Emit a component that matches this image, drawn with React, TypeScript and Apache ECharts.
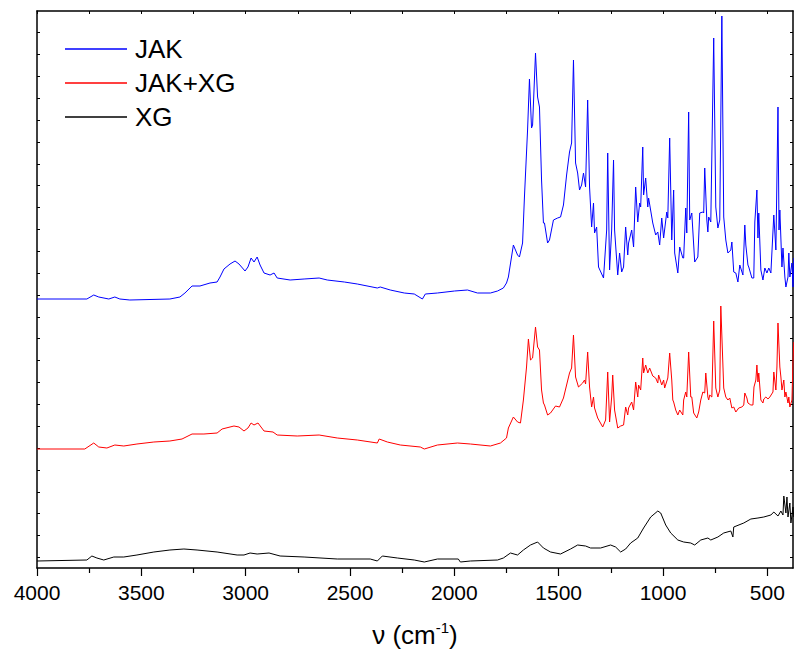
import React, { useEffect, useRef } from "react";
import * as echarts from "echarts";

// Wavenumbers (cm-1) and absorbance (arbitrary, offset) for each spectrum
const jakX = [4000,3761,3728,3704,3656,3627,3603,3555,3363,3315,3291,3257,3219,3171,3137,3123,3104,3075,3051,3032,3003,2989,2974,2960,2945,2931,2912,2883,2864,2849,2787,2720,2648,2609,2527,2465,2369,2355,2307,2240,2192,2153,2139,2081,1999,1937,1889,1827,1793,1765,1750,1741,1717,1697,1688,1673,1664,1649,1640,1630,1625,1611,1601,1592,1582,1573,1568,1553,1544,1525,1505,1491,1477,1462,1448,1438,1429,1419,1409,1400,1390,1381,1371,1361,1352,1342,1333,1328,1318,1309,1285,1270,1265,1256,1246,1237,1232,1217,1208,1198,1189,1179,1169,1165,1150,1141,1131,1121,1112,1107,1097,1093,1083,1073,1069,1049,1035,1025,1016,1006,997,982,977,968,958,949,944,929,920,905,901,891,886,877,872,862,848,833,824,809,805,800,790,785,781,771,757,747,737,728,718,709,699,689,675,670,661,651,641,632,617,608,603,593,589,574,565,560,550,545,541,531,521,512,502,493,483,469,459,449,444,440,430,425,416,411,401,397,392,382,377,373];
const jakY = [269,269,273,271,269,271,269,268,269,271,275,282,282,285,286,291,299,304,307,304,297,301,310,306,311,303,295,293,295,290,288,289,290,288,286,284,280,281,278,275,274,269,274,275,277,278,275,275,277,280,285,291,323,313,311,325,371,438,489,440,443,515,471,461,388,345,345,325,328,348,350,351,363,393,416,425,508,405,395,378,383,395,381,468,381,341,365,335,341,301,290,338,415,298,338,408,338,293,315,296,301,341,313,325,338,321,381,346,365,361,421,373,390,361,370,345,333,336,323,350,330,356,350,430,328,378,315,295,321,310,310,360,335,456,348,355,306,311,355,356,355,400,348,336,351,346,530,361,340,348,552,351,328,315,318,326,296,295,286,303,293,343,323,303,301,290,290,346,378,330,355,298,288,300,295,300,295,353,318,461,338,358,301,320,291,281,291,315,291,305,281,310];

const mixX = [4000,3771,3728,3704,3665,3627,3584,3521,3440,3363,3305,3257,3200,3137,3113,3056,3032,3008,2989,2974,2960,2941,2912,2869,2849,2753,2648,2561,2465,2369,2360,2321,2259,2163,2144,2081,1985,1923,1827,1779,1750,1741,1717,1697,1683,1669,1654,1645,1635,1625,1611,1601,1592,1582,1573,1568,1553,1539,1515,1496,1477,1462,1448,1438,1429,1419,1405,1385,1376,1371,1361,1352,1342,1333,1328,1313,1289,1275,1265,1256,1246,1241,1232,1217,1203,1189,1179,1169,1165,1150,1141,1131,1121,1117,1107,1097,1093,1083,1073,1064,1049,1035,1025,1021,1006,997,992,977,968,958,953,949,939,929,920,905,901,891,886,877,867,862,853,838,829,819,809,800,795,785,781,776,766,757,747,737,728,723,709,699,689,680,670,661,651,637,622,613,608,598,593,579,569,564,555,550,545,541,531,521,517,507,497,488,473,469,459,454,449,440,435,430,421,416,411,401,397,392,382,377,373];
const mixY = [119,119,125,121,120,123,122,124,126,127,129,134,134,135,139,142,141,137,140,145,143,145,137,136,133,132,133,130,128,125,129,126,123,121,119,123,125,124,122,125,130,140,151,146,145,168,201,229,208,210,241,221,218,178,165,163,153,155,162,161,170,183,195,200,233,191,181,185,188,184,216,181,161,171,160,150,141,148,196,146,171,193,158,140,142,143,161,153,160,166,158,186,171,183,178,210,195,203,195,200,192,190,185,193,183,188,180,190,215,188,168,166,158,153,158,153,168,176,171,216,171,171,155,150,156,168,176,175,195,171,168,173,171,247,180,171,178,262,180,171,168,170,160,161,156,160,161,163,175,170,165,163,163,181,188,203,186,195,168,165,169,171,169,171,176,196,178,201,245,201,191,178,188,171,176,165,171,161,168,208,226];

const xgX = [4000,3761,3737,3713,3680,3632,3584,3521,3440,3363,3296,3233,3137,3041,3008,2979,2945,2888,2835,2720,2561,2403,2369,2345,2273,2192,2144,2081,1981,1971,1923,1793,1765,1731,1697,1669,1635,1601,1573,1539,1491,1443,1409,1371,1347,1299,1251,1227,1203,1179,1155,1121,1093,1059,1025,1011,987,963,929,901,867,848,819,785,771,737,709,675,665,661,613,579,545,517,483,469,449,435,425,421,411,406,401,392,387,377,373];
const xgY = [7,8,12,10,8,11,11,13,16,18,19,18,16,13,13,15,14,15,12,11,9,9,7,12,10,8,6,9,9,6,7,8,10,15,13,18,23,26,20,16,14,19,23,22,20,20,23,21,16,19,25,30,40,51,57,55,43,35,28,26,25,23,28,30,28,31,35,37,31,41,45,49,50,51,53,56,52,57,53,72,55,71,51,65,45,61,51];

const seriesNames = ["JAK", "JAK+XG", "XG"];
const seriesColors = ["#0000ff", "#ff0000", "#000000"];
const majorTicks = [4000, 3500, 3000, 2500, 2000, 1500, 1000, 500];
const minorTicks = [3750, 3250, 2750, 2250, 1750, 1250, 750];

const zip = (xs: number[], ys: number[]) => {
  const n = Math.min(xs.length, ys.length);
  const out: number[][] = [];
  for (let i = 0; i < n; i++) out.push([xs[i], ys[i]]);
  return out;
};

const FONT = "'Liberation Sans', Arial, Helvetica, sans-serif";

export default function App() {
  const ref = useRef<HTMLDivElement>(null);
  useEffect(() => {
    if (!ref.current) return;
    const chart = echarts.init(ref.current, undefined, { renderer: "svg" });
    const yTicks: number[] = [];
    for (let i = 0; i < 25; i++) yTicks.push(535.3 - 21.86 * i);
    const allTicks = [...majorTicks, ...minorTicks].sort((a, b) => b - a);
    const xMin = 377;
    const xMax = 4000;
    const yMin = 0;
    const yMax = 557;
    const frame = { show: true, lineStyle: { color: "#000", width: 1.5 } };
    const datas = [zip(jakX, jakY), zip(mixX, mixY), zip(xgX, xgY)];
    chart.setOption({
      animation: false,
      backgroundColor: "#fff",
      grid: { left: 37, right: 2, top: 11, bottom: 89, containLabel: false },
      legend: {
        orient: "vertical",
        left: 65,
        top: 34,
        padding: 0,
        icon: "rect",
        itemWidth: 62,
        itemHeight: 1.3,
        itemGap: 4,
        data: seriesNames,
        textStyle: { fontSize: 26, lineHeight: 30, color: "#000", fontFamily: FONT, padding: [0, 0, 0, 3] },
      },
      xAxis: [
        {
          type: "value",
          position: "bottom",
          inverse: true,
          min: xMin,
          max: xMax,
          axisLine: frame,
          axisTick: { show: true, inside: false, length: 8, customValues: majorTicks, lineStyle: { color: "#000", width: 1.2 } },
          axisLabel: {
            show: true,
            customValues: majorTicks,
            formatter: (v: number) => String(v),
            fontSize: 21,
            color: "#000",
            fontFamily: FONT,
            margin: 14,
          },
          splitLine: { show: false },
          name: "{n|ν (cm}{s|-1}{n|)}",
          nameLocation: "middle",
          nameGap: 52,
          nameTextStyle: {
            rich: {
              n: { fontSize: 26, color: "#000", fontFamily: FONT },
              s: { fontSize: 15, color: "#000", fontFamily: FONT, padding: [0, 0, 14, 0] },
            },
          },
        },
        {
          type: "value",
          position: "bottom",
          inverse: true,
          min: xMin,
          max: xMax,
          axisLine: { show: false },
          axisTick: { show: true, inside: false, length: 5, customValues: minorTicks, lineStyle: { color: "#000", width: 1.2 } },
          axisLabel: { show: false },
          splitLine: { show: false },
        },
        {
          type: "value",
          position: "top",
          inverse: true,
          min: xMin,
          max: xMax,
          axisLine: frame,
          axisTick: { show: true, inside: true, length: 3, customValues: allTicks, lineStyle: { color: "#000", width: 1 } },
          axisLabel: { show: false },
          splitLine: { show: false },
        },
      ],
      yAxis: [
        {
          type: "value",
          position: "left",
          min: yMin,
          max: yMax,
          axisLine: frame,
          axisTick: { show: true, inside: true, length: 3, customValues: yTicks, lineStyle: { color: "#000", width: 1 } },
          axisLabel: { show: false },
          splitLine: { show: false },
        },
        {
          type: "value",
          position: "right",
          min: yMin,
          max: yMax,
          axisLine: frame,
          axisTick: { show: true, inside: true, length: 3, customValues: yTicks, lineStyle: { color: "#000", width: 1 } },
          axisLabel: { show: false },
          splitLine: { show: false },
        },
      ],
      series: seriesNames.map((name, i) => ({
        name,
        type: "line",
        xAxisIndex: 0,
        yAxisIndex: 0,
        data: datas[i],
        symbol: "none",
        showSymbol: false,
        clip: true,
        lineStyle: { color: seriesColors[i], width: 1 },
        itemStyle: { color: seriesColors[i] },
        z: 3 - i,
      })),
    });
    return () => chart.dispose();
  }, []);
  return (
    <div
      ref={ref}
      style={{ position: "absolute", left: 0, top: 0, width: 795, height: 657 }}
    />
  );
}
